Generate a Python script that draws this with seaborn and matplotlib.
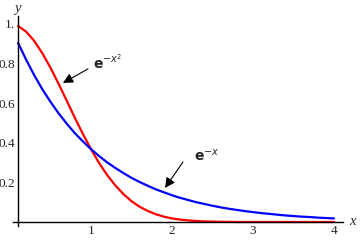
import matplotlib
matplotlib.use("Agg")
import matplotlib.pyplot as plt
import seaborn as sns
import pandas as pd

x_vals = [0.1, 0.2, 0.3, 0.4, 0.5, 0.6, 0.7, 0.8, 0.9, 1.0,
          1.1, 1.2, 1.3, 1.4, 1.5, 1.6, 1.7, 1.8, 1.9, 2.0,
          2.1, 2.2, 2.3, 2.4, 2.5, 2.6, 2.7, 2.8, 2.9, 3.0,
          3.1, 3.2, 3.3, 3.4, 3.5, 3.6, 3.7, 3.8, 3.9, 4.0]
gauss_vals = [0.990, 0.961, 0.914, 0.852, 0.779, 0.698, 0.613, 0.527, 0.445, 0.368,
              0.298, 0.237, 0.185, 0.141, 0.105, 0.077, 0.056, 0.039, 0.027, 0.018,
              0.012, 0.008, 0.005, 0.003, 0.002, 0.001, 0.001, 0.000, 0.000, 0.000,
              0.000, 0.000, 0.000, 0.000, 0.000, 0.000, 0.000, 0.000, 0.000, 0.000]
exp_vals = [0.905, 0.819, 0.741, 0.670, 0.607, 0.549, 0.497, 0.449, 0.407, 0.368,
            0.333, 0.301, 0.273, 0.247, 0.223, 0.202, 0.183, 0.165, 0.150, 0.135,
            0.122, 0.111, 0.100, 0.091, 0.082, 0.074, 0.067, 0.061, 0.055, 0.050,
            0.045, 0.041, 0.037, 0.033, 0.030, 0.027, 0.025, 0.022, 0.020, 0.018]
x_ticks = [1, 2, 3, 4]
x_tick_labels = ["1", "2", "3", "4"]
y_ticks = [0.2, 0.4, 0.6, 0.8, 1.0]
y_tick_labels = ["0.2", "0.4", "0.6", "0.8", "1."]
labels = [r"$\mathbf{e}^{-x^2}$", r"$\mathbf{e}^{-x}$"]

sns.set_style("white")
plt.rcParams["mathtext.fontset"] = "dejavusans"

df = pd.DataFrame({"x": x_vals, "gauss": gauss_vals, "exp": exp_vals})

fig = plt.figure(figsize=(3.6, 2.41), dpi=100)
ax = fig.add_axes([0, 0, 1, 1])
ax.set_facecolor("white")

sns.lineplot(data=df, x="x", y="gauss", ax=ax, color="#ff0000", linewidth=1.6)
sns.lineplot(data=df, x="x", y="exp", ax=ax, color="#0000ff", linewidth=1.6)

ax.set_xlim(-0.123, 4.321)
ax.set_ylim(-0.096, 1.121)

for s in ["top", "right"]:
    ax.spines[s].set_visible(False)
ax.spines["left"].set_position(("data", 0.1))
ax.spines["bottom"].set_position(("data", 0.0))
ax.spines["left"].set_bounds(-0.02, 1.04)
ax.spines["bottom"].set_bounds(0.037, 4.11)
for s in ["left", "bottom"]:
    ax.spines[s].set_color("black")
    ax.spines[s].set_linewidth(1.0)

serif = "Liberation Serif"
ax.set_xticks(x_ticks)
ax.set_xticklabels(x_tick_labels, fontfamily=serif, fontsize=9.5)
ax.set_yticks(y_ticks)
ax.set_yticklabels(y_tick_labels, fontfamily=serif, fontsize=9.5)
ax.tick_params(axis="both", direction="in", length=4, width=1, color="black", pad=2)
ax.set_xlabel("")
ax.set_ylabel("")

ax.text(4.19, 0.0, "x", fontfamily=serif, fontstyle="italic", fontsize=10.5,
        ha="left", va="center")
ax.text(0.09, 1.08, "y", fontfamily=serif, fontstyle="italic", fontsize=10.5,
        ha="center", va="center")

arrow = dict(arrowstyle="-|>,head_length=0.6,head_width=0.3", color="black", lw=0.8,
             shrinkA=0, shrinkB=0)
ax.annotate("", xy=(0.654, 0.702), xytext=(0.963, 0.773), arrowprops=arrow)
ax.annotate("", xy=(1.914, 0.172), xytext=(2.136, 0.303), arrowprops=arrow)
ax.text(1.02, 0.773, labels[0], fontsize=10, ha="left", va="baseline")
ax.text(2.27, 0.308, labels[1], fontsize=10, ha="left", va="baseline")

fig.savefig("out.png", dpi=100)
